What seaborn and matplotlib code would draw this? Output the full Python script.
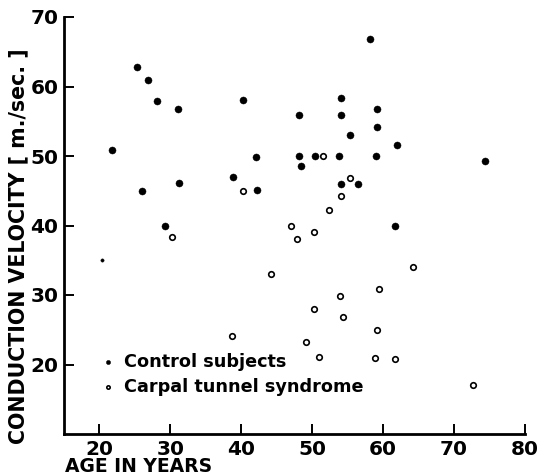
import matplotlib
matplotlib.use("Agg")
import matplotlib.pyplot as plt
import pandas as pd
import seaborn as sns

# ─── Data ─────────────────────────────────────────────────────────────────────

control_age = [25.3, 26.9, 28.1, 31.1, 21.7, 26.0, 31.2, 38.8, 40.3, 42.1, 42.2, 29.3,
               58.1, 54.1, 48.2, 54.1, 59.1, 59.1, 55.3, 61.9, 48.2, 50.4, 53.8, 59.0,
               48.4, 74.4, 54.0, 56.4, 61.6]
control_vel = [62.8, 60.9, 57.9, 56.7, 50.9, 44.9, 46.1, 47.0, 58.0, 49.9, 45.1, 40.0,
               66.9, 58.3, 55.9, 55.9, 56.8, 54.2, 53.0, 51.6, 50.0, 50.0, 50.0, 50.0,
               48.6, 49.3, 46.0, 46.0, 40.0]

# one faint, smaller control dot at the far left
stray_age = [20.3]
stray_vel = [35.0]

carpal_age = [40.3, 30.2, 51.5, 55.3, 54.1, 52.3, 47.0, 50.3, 47.8, 44.2, 38.7,
              64.2, 59.4, 53.9, 50.3, 54.3, 59.1, 49.1, 51.0, 58.8, 61.7, 72.7]
carpal_vel = [45.0, 38.3, 50.0, 46.9, 44.2, 42.2, 40.0, 39.1, 38.0, 33.0, 24.1,
              34.0, 30.9, 29.9, 28.0, 26.9, 25.0, 23.3, 21.1, 21.0, 20.8, 17.0]

x_ticks = [20, 30, 40, 50, 60, 70, 80]
y_ticks = [20, 30, 40, 50, 60, 70]

# ─── Plot ─────────────────────────────────────────────────────────────────────

sns.set_style("ticks")
plt.rcParams["font.family"] = ["DejaVu Sans"]
plt.rcParams["font.weight"] = "bold"
for key in ("text.color", "axes.labelcolor", "xtick.color", "ytick.color", "axes.edgecolor"):
    plt.rcParams[key] = "black"

control = pd.DataFrame({"age": control_age, "vel": control_vel})
stray = pd.DataFrame({"age": stray_age, "vel": stray_vel})
carpal = pd.DataFrame({"age": carpal_age, "vel": carpal_vel})

fig = plt.figure(figsize=(5.43, 4.76), dpi=100)
ax = fig.add_axes([64 / 543, 42 / 476, (525 - 64) / 543, (434 - 17) / 476])

sns.scatterplot(data=control, x="age", y="vel", ax=ax, color="black", s=26,
                edgecolor="black", linewidth=0.3, label="Control subjects", zorder=3)
sns.scatterplot(data=stray, x="age", y="vel", ax=ax, color="black", s=6,
                edgecolor="black", linewidth=0.2, zorder=3)
sns.scatterplot(data=carpal, x="age", y="vel", ax=ax, facecolor="white", s=16,
                edgecolor="black", linewidth=1.2, label="Carpal tunnel syndrome", zorder=3)

ax.set_xlim(15, 80)
ax.set_ylim(10, 70)
ax.set_xticks(x_ticks)
ax.set_yticks(y_ticks)
ax.tick_params(direction="in", length=7, width=1.4, labelsize=14.5, pad=4,
               colors="black")
for lab in ax.get_xticklabels() + ax.get_yticklabels():
    lab.set_fontweight("bold")

sns.despine(ax=ax)
for side in ("left", "bottom"):
    ax.spines[side].set_linewidth(2.0)
    ax.spines[side].set_color("black")

ax.set_xlabel("")
ax.set_ylabel("")
fig.text(65 / 543, 1 - 467 / 476, "AGE IN YEARS", fontsize=13.5, fontweight="bold",
         ha="left", va="center")
fig.text(18 / 543, 1 - 246 / 476, "CONDUCTION VELOCITY [ m./sec. ]", fontsize=14.8,
         fontweight="bold", rotation=90, ha="center", va="center")

leg = ax.legend(loc="center left", bbox_to_anchor=(92 / 543, 1 - 374.5 / 476),
                bbox_transform=fig.transFigure, frameon=False, fontsize=12.7,
                borderpad=0, handlelength=0.8, handletextpad=0.5, labelspacing=0.4,
                markerscale=0.6)
for t in leg.get_texts():
    t.set_fontweight("bold")

plt.savefig("out.png", dpi=100)
